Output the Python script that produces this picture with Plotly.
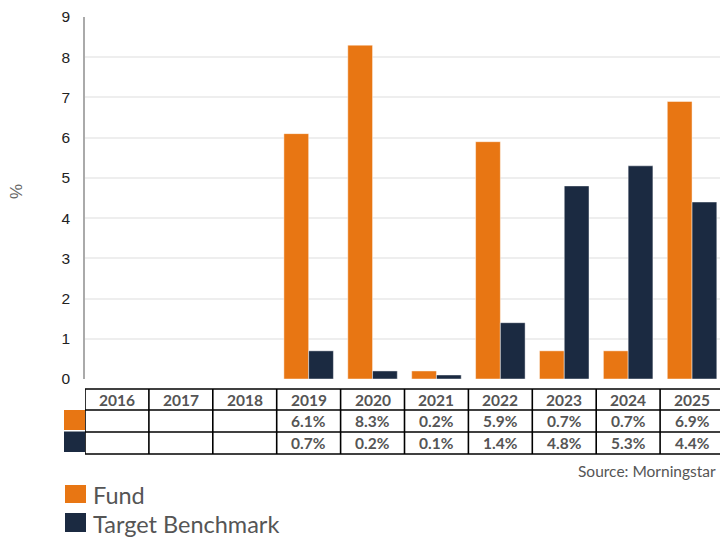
import plotly.graph_objects as go

years = ["2016", "2017", "2018", "2019", "2020", "2021", "2022", "2023", "2024", "2025"]
fund = [None, None, None, 6.1, 8.3, 0.2, 5.9, 0.7, 0.7, 6.9]
bench = [None, None, None, 0.7, 0.2, 0.1, 1.4, 4.8, 5.3, 4.4]
series_names = ["Fund", "Target Benchmark"]
yticks = list(range(0, 10))

ORANGE = "#E87613"
NAVY = "#1B2A41"
TXT = "#555555"

W, H = 720, 539
L, T, B = 85, 17, 160
PH = H - T - B  # plot height


def py(p):
    return (H - B - p) / PH


def px(p):
    return (p - L) / (W - L)


xi = list(range(len(years)))

fig = go.Figure()
for name, vals, col in [(series_names[0], fund, ORANGE), (series_names[1], bench, NAVY)]:
    fig.add_trace(go.Bar(
        x=xi, y=vals, name=name, marker_color=col,
        marker_line=dict(color="rgba(255,255,255,0.45)", width=1),
        customdata=years, showlegend=False, hoverinfo="skip"))

shapes = []
ann = []
# table geometry (pixels)
rows = [389, 410, 432, 454]
for r in rows:
    shapes.append(dict(type="line", xref="x", yref="paper", x0=-0.5, x1=len(years) - 0.5,
                       y0=py(r), y1=py(r), line=dict(color="black", width=1.6)))
for i in range(len(years) + 1):
    shapes.append(dict(type="line", xref="x", yref="paper", x0=i - 0.5, x1=i - 0.5,
                       y0=py(rows[0]), y1=py(rows[-1]), line=dict(color="black", width=1.6)))

for i, yv in enumerate(years):
    ann.append(dict(x=i, y=py((rows[0] + rows[1]) / 2), xref="x", yref="paper",
                    text="<b>%s</b>" % yv, showarrow=False, yanchor="middle",
                    font=dict(family="Lato", size=15.5, color=TXT)))
    for vals, (r0, r1) in [(fund, (rows[1], rows[2])), (bench, (rows[2], rows[3]))]:
        if vals[i] is not None:
            ann.append(dict(x=i, y=py((r0 + r1) / 2), xref="x", yref="paper",
                            text="<b>%.1f%%</b>" % vals[i], showarrow=False, yanchor="middle",
                            font=dict(family="Lato", size=15.5, color=TXT)))

# row color keys
shapes.append(dict(type="rect", xref="paper", yref="paper", x0=px(64), x1=px(85),
                   y0=py(430), y1=py(410), fillcolor=ORANGE, line=dict(width=0)))
shapes.append(dict(type="rect", xref="paper", yref="paper", x0=px(64), x1=px(85),
                   y0=py(452), y1=py(431.5), fillcolor=NAVY, line=dict(width=0)))

# legend
for (name, col, y0, y1) in [(series_names[0], ORANGE, 485, 503), (series_names[1], NAVY, 513, 532)]:
    shapes.append(dict(type="rect", xref="paper", yref="paper", x0=px(65), x1=px(86),
                       y0=py(y1), y1=py(y0), fillcolor=col, line=dict(width=0)))
    ann.append(dict(x=px(91), y=py((y0 + y1) / 2 + 1), xref="paper", yref="paper",
                    text=name, showarrow=False, xanchor="left", yanchor="middle",
                    font=dict(family="Lato", size=23.5, color=TXT)))

# source
ann.append(dict(x=px(718), y=py(471), xref="paper", yref="paper", text="Source: Morningstar",
                showarrow=False, xanchor="right", yanchor="middle",
                font=dict(family="Lato", size=15.5, color=TXT)))

# y-axis title
ann.append(dict(x=px(16), y=py(192), xref="paper", yref="paper", text="%", textangle=-90,
                showarrow=False, xanchor="center", yanchor="middle",
                font=dict(family="Liberation Sans", size=17, color="#666666")))

cat_w = 63.9
fig.update_layout(
    width=W, height=H,
    margin=dict(l=L, r=0, t=T, b=B, pad=0),
    paper_bgcolor="white", plot_bgcolor="white",
    barmode="group", bargap=0.225, bargroupgap=0.0,
    shapes=shapes, annotations=ann,
    xaxis=dict(type="linear", range=[-0.5, -0.5 + (W - L) / cat_w],
               showticklabels=False, showgrid=False, zeroline=False, showline=False),
    yaxis=dict(range=[0, 9], tickvals=yticks, showgrid=True, gridcolor="#EEEEEE", gridwidth=1.5,
               zeroline=False, showline=True, linecolor="#AAAAAA", linewidth=1.5,
               tickfont=dict(family="Liberation Sans", size=15.5, color="#222222"),
               ticklabelstandoff=10),
)

fig.write_html("out.html")
